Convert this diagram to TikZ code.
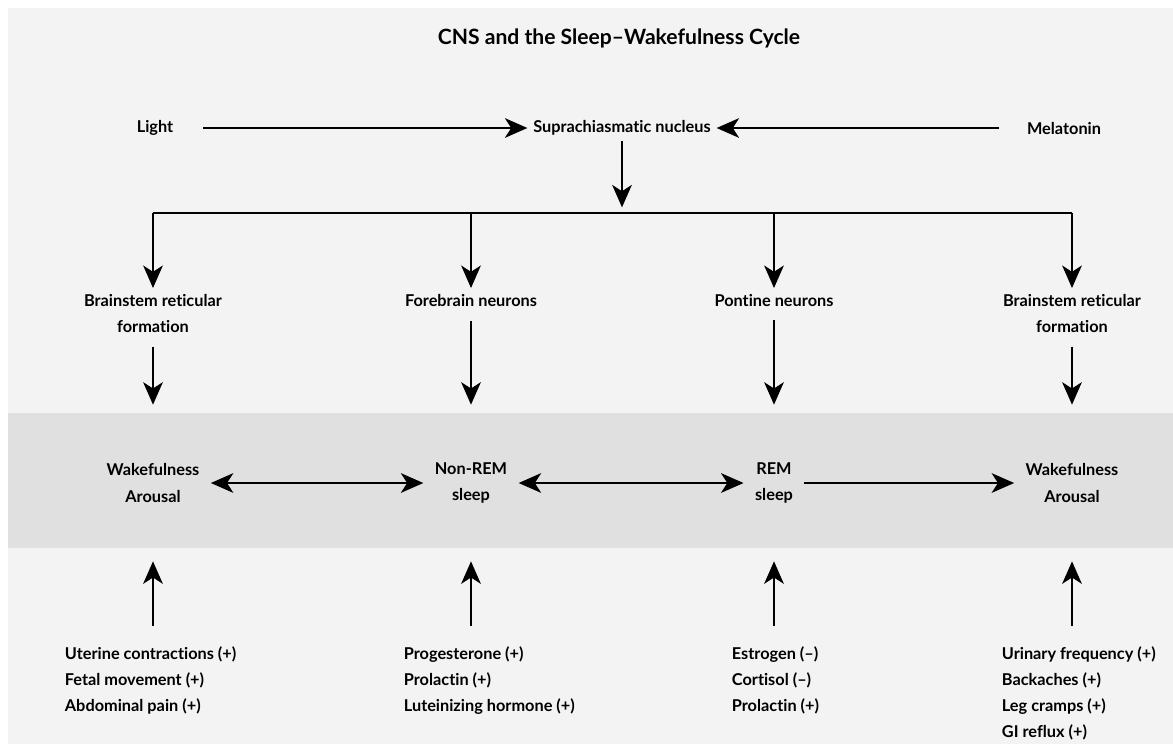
\documentclass[tikz,border=0pt]{standalone}
\usepackage{fontspec}
\setmainfont{Lato}[Ligatures={TeX,NoCommon}]
\usetikzlibrary{arrows.meta}
\definecolor{bgcol}{HTML}{F3F3F3}
\definecolor{bandcol}{HTML}{E0E0E0}
\begin{document}
\begin{tikzpicture}[x=0.025cm,y=-0.025cm,
  lbl/.style={font=\fontsize{11.6}{18.5}\selectfont\bfseries,align=center,inner sep=4pt},
  stage/.style={lbl,minimum height=111pt,inner xsep=8pt},
  lst/.style={lbl,align=left,anchor=north west},
  arr/.style={line width=1.2pt,-{Stealth[length=16pt,width=14pt,inset=4.5pt]}},
  darr/.style={line width=1.2pt,{Stealth[length=16pt,width=14pt,inset=4.5pt]}-{Stealth[length=16pt,width=14pt,inset=4.5pt]}}]
% 背景
\fill[white] (0,0) rectangle (1173,744);
\fill[bgcol] (8,8) rectangle (1173,744);
\fill[bandcol] (8,413) rectangle (1173,548);
% タイトル
\node[font=\fontsize{15}{18}\selectfont\bfseries] (title) at (619,38) {CNS and the Sleep–Wakefulness Cycle};
% 入力
\node[lbl] (light) at (155,128) {Light};
\node[lbl] (scn) at (622,128) {Suprachiasmatic nucleus};
\node[lbl] (mel) at (1064,128) {Melatonin};
\draw[arr,shorten <=17pt] (light) -- (scn);
\draw[arr,shorten <=16pt] (mel) -- (scn);
% 分岐
\coordinate (br) at (622,213);
\coordinate (b1) at (153,213);
\coordinate (b2) at (471,213);
\coordinate (b3) at (774,213);
\coordinate (b4) at (1072,213);
\draw[arr,shorten >=4pt] (scn) -- (br);
\draw[line width=1.2pt] (b1) -- (b4);
\node[lbl,anchor=north] (bs1) at (153,288) {Brainstem reticular\\formation};
\node[lbl,anchor=north] (fore) at (471,288) {Forebrain neurons};
\node[lbl,anchor=north] (pont) at (774,288) {Pontine neurons};
\node[lbl,anchor=north] (bs2) at (1072,288) {Brainstem reticular\\formation};
\draw[arr] (b1) -- (bs1.north);
\draw[arr] (b2) -- (fore.north);
\draw[arr] (b3) -- (pont.north);
\draw[arr] (b4) -- (bs2.north);
% 睡眠段階
\node[stage] (wk1) at (153,483) {Wakefulness\\Arousal};
\node[stage] (nrem) at (471,483) {Non-REM\\sleep};
\node[stage] (rem) at (774,483) {REM\\sleep};
\node[stage] (wk2) at (1072,483) {Wakefulness\\Arousal};
\draw[arr,shorten <=6pt] (bs1) -- (wk1);
\draw[arr,shorten <=6pt] (fore) -- (nrem);
\draw[arr,shorten <=6pt] (pont) -- (rem);
\draw[arr,shorten <=6pt] (bs2) -- (wk2);
\draw[darr] (wk1) -- (nrem);
\draw[darr] (nrem) -- (rem);
\draw[arr] (rem) -- (wk2);
% 影響因子
\node[lst] (l1) at (59,641) {Uterine contractions (+)\\Fetal movement (+)\\Abdominal pain (+)};
\node[lst] (l2) at (398,641) {Progesterone (+)\\Prolactin (+)\\Luteinizing hormone (+)};
\node[lst] (l3) at (726,641) {Estrogen (–)\\Cortisol (–)\\Prolactin (+)};
\node[lst] (l4) at (996,641) {Urinary frequency (+)\\Backaches (+)\\Leg cramps (+)\\GI reflux (+)};
\draw[arr,shorten <=11pt] (wk1 |- l1.north) -- (wk1);
\draw[arr,shorten <=11pt] (nrem |- l2.north) -- (nrem);
\draw[arr,shorten <=11pt] (rem |- l3.north) -- (rem);
\draw[arr,shorten <=11pt] (wk2 |- l4.north) -- (wk2);
\end{tikzpicture}
\end{document}
